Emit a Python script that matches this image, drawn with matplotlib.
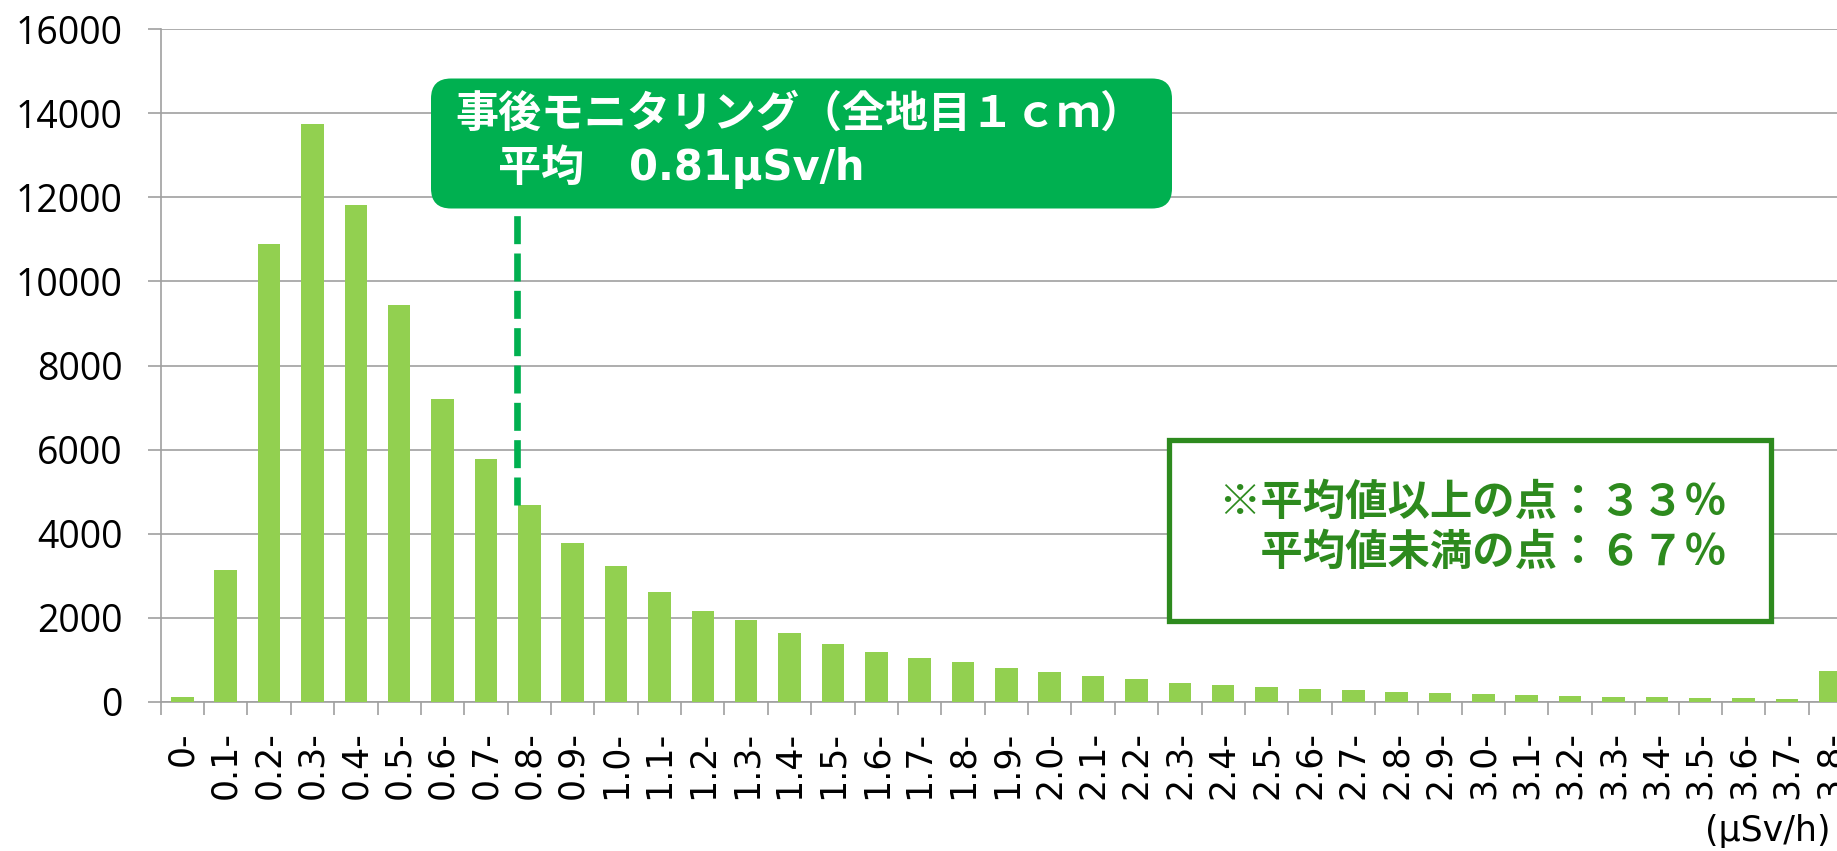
import matplotlib
matplotlib.use("Agg")
import matplotlib.pyplot as plt
from matplotlib.patches import FancyBboxPatch, Rectangle

# 線量率区分 (μSv/h) と測定点数
bins = ['0-', '0.1-', '0.2-', '0.3-', '0.4-', '0.5-', '0.6-', '0.7-', '0.8-', '0.9-',
        '1.0-', '1.1-', '1.2-', '1.3-', '1.4-', '1.5-', '1.6-', '1.7-', '1.8-', '1.9-',
        '2.0-', '2.1-', '2.2-', '2.3-', '2.4-', '2.5-', '2.6-', '2.7-', '2.8-', '2.9-',
        '3.0-', '3.1-', '3.2-', '3.3-', '3.4-', '3.5-', '3.6-', '3.7-', '3.8-']
counts = [110, 3150, 10900, 13740, 11820, 9450, 7200, 5780, 4680, 3790,
          3230, 2620, 2170, 1950, 1640, 1390, 1190, 1050, 955, 805,
          715, 610, 545, 440, 405, 360, 315, 290, 245, 225,
          200, 175, 145, 130, 128, 105, 105, 72, 740]
yticks = [0, 2000, 4000, 6000, 8000, 10000, 12000, 14000, 16000]

mean_label = '0.81μSv/h'
mean_pos = 7.72   # position of the mean line on the category axis
above_pct = '３３'
below_pct = '６７'

bar_color = '#92D050'
box_green = '#00B050'
dark_green = '#2D8A1E'
grid_color = '#A0A0A0'
cjk = ['Noto Sans CJK JP', 'DejaVu Sans']

plt.rcParams['font.family'] = ['DejaVu Sans']

W, H = 1837, 851
fig = plt.figure(figsize=(W / 100, H / 100), dpi=100)
# axes run past the right edge, the last bar is cut like in the source
ax = fig.add_axes([160.7 / W, 1 - 702 / H, (1852 - 160.7) / W, (702 - 29) / H])

x = list(range(len(bins)))
ax.bar(x, counts, width=0.52, color=bar_color, zorder=3)

ax.set_xlim(-0.5, len(bins) - 0.5)
ax.set_ylim(0, 16000)
ax.set_yticks(yticks)
ax.set_yticklabels([str(v) for v in yticks], family=['Open Sans', 'DejaVu Sans'])
ax.set_xticks([i - 0.5 for i in x], minor=True)
ax.set_xticks(x)
ax.set_xticklabels(bins, rotation=90)

ax.yaxis.grid(True, color=grid_color, linewidth=1.2, zorder=0)
ax.set_axisbelow(True)
for s in ['top', 'right']:
    ax.spines[s].set_visible(False)
for s in ['left', 'bottom']:
    ax.spines[s].set_color(grid_color)
    ax.spines[s].set_linewidth(1.2)

ax.tick_params(axis='y', length=9.5, width=1.2, color=grid_color, pad=18, labelsize=27)
ax.tick_params(axis='x', which='major', length=0, pad=21, labelsize=25)
ax.tick_params(axis='x', which='minor', length=9.5, width=1.2, color=grid_color)

# dashed mean line from the 0.8- bar up to the label box
ax.plot([mean_pos, mean_pos], [counts[8], 11800], color=box_green, linewidth=4.8,
        linestyle=(0, (4.2, 1.4)), zorder=4)

# green label box (inches, so the corners stay round)
box1 = FancyBboxPatch((4.31, 6.425), 7.41, 1.30, boxstyle='round,pad=0,rounding_size=0.2',
                      transform=fig.dpi_scale_trans, facecolor=box_green,
                      edgecolor='none', zorder=5)
fig.patches.append(box1)
fig.text(4.55, 7.37, '事後モニタリング（全地目１ｃｍ）', transform=fig.dpi_scale_trans,
         family=cjk, fontsize=31, fontweight='bold', color='white',
         ha='left', va='center', zorder=6)
fig.text(4.55, 6.83, '　平均', transform=fig.dpi_scale_trans,
         family=cjk, fontsize=31, fontweight='bold', color='white',
         ha='left', va='center', zorder=6)
fig.text(6.29, 6.83, mean_label, transform=fig.dpi_scale_trans,
         family=['DejaVu Sans'], fontsize=30, fontweight='bold', color='white',
         ha='left', va='center', zorder=6)

# white box with the share of points
box2 = Rectangle((11.69, 2.30), 6.02, 1.81, transform=fig.dpi_scale_trans,
                 facecolor='white', edgecolor=dark_green, linewidth=3.8, zorder=5)
fig.patches.append(box2)
fig.text(12.18, 3.48, '※平均値以上の点：' + above_pct + '％', transform=fig.dpi_scale_trans,
         family=cjk, fontsize=30.5, fontweight='bold', color=dark_green,
         ha='left', va='center', zorder=6)
fig.text(12.18, 2.98, '　平均値未満の点：' + below_pct + '％', transform=fig.dpi_scale_trans,
         family=cjk, fontsize=30.5, fontweight='bold', color=dark_green,
         ha='left', va='center', zorder=6)

fig.text(1830 / W, 3 / H, '(μSv/h)', fontsize=25, ha='right', va='bottom')

fig.savefig('out.png', dpi=100)
